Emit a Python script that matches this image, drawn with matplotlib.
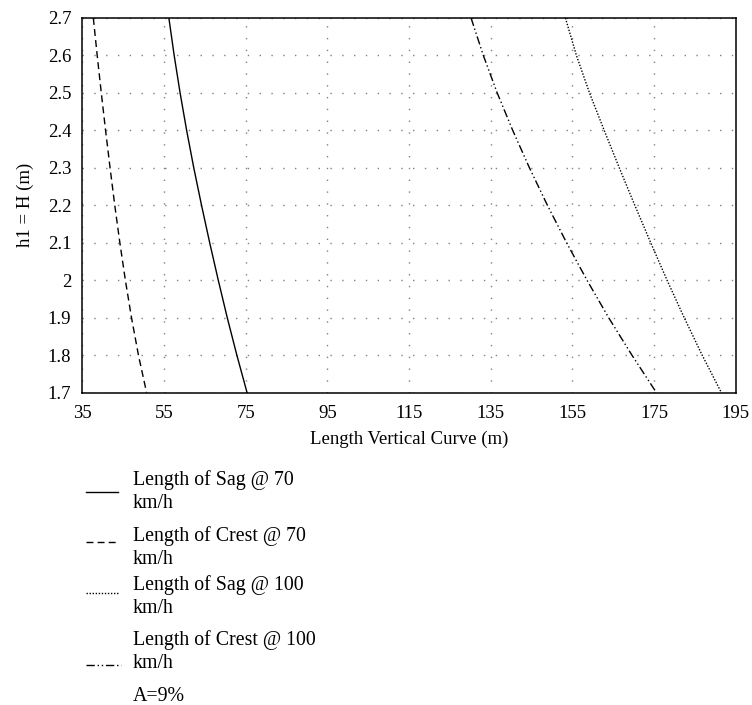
import matplotlib
matplotlib.use("Agg")
import matplotlib.pyplot as plt
from matplotlib.lines import Line2D

plt.rcParams['font.family'] = ['Liberation Serif', 'DejaVu Serif']

h_values = [2.7, 2.6, 2.5, 2.4, 2.3, 2.2, 2.1, 2.0, 1.9, 1.8, 1.7]
sag_70 = [56.2, 57.5, 58.95, 60.55, 62.3, 64.2, 66.2, 68.3, 70.5, 72.85, 75.35]
crest_70 = [37.7, 38.65, 39.65, 40.7, 41.8, 42.95, 44.2, 45.55, 47.05, 48.75, 50.75]
sag_100 = [153.3, 156.0, 159.2, 162.8, 166.5, 170.3, 174.2, 178.2, 182.4, 186.8, 191.5]
crest_100 = [130.2, 133.2, 136.6, 140.4, 144.5, 148.9, 153.6, 158.6, 163.9, 169.6, 175.6]

x_ticks = [35, 55, 75, 95, 115, 135, 155, 175, 195]
y_ticks = [1.7, 1.8, 1.9, 2.0, 2.1, 2.2, 2.3, 2.4, 2.5, 2.6, 2.7]
y_tick_labels = ['1.7', '1.8', '1.9', '2', '2.1', '2.2', '2.3', '2.4', '2.5', '2.6', '2.7']

legend_labels = [['Length of Sag @ 70', 'km/h'],
                 ['Length of Crest @ 70', 'km/h'],
                 ['Length of Sag @ 100', 'km/h'],
                 ['Length of Crest @ 100', 'km/h'],
                 ['A=9%']]

styles = ['-', (0, (5, 3)), (0, (1, 1.2)), (0, (6, 2, 1, 2, 1, 2))]

W, H = 752, 705
fig = plt.figure(figsize=(W / 100, H / 100), dpi=100)
ax = fig.add_axes([82.3 / W, 1 - 392.7 / H, (735.7 - 82.3) / W, (392.7 - 18) / H])

series = [sag_70, crest_70, sag_100, crest_100]
for xs, ls in zip(series, styles):
    ax.plot(xs, h_values, color='black', lw=1.0, linestyle=ls)

ax.set_xlim(35, 195)
ax.set_ylim(1.7, 2.7)
ax.set_xticks(x_ticks)
ax.set_yticks(y_ticks)
ax.set_yticklabels(y_tick_labels)
ax.tick_params(length=0, labelsize=13.5)
ax.tick_params(axis='x', pad=9)
ax.tick_params(axis='y', pad=8)
ax.grid(True, color='#808080', linestyle=(0, (1, 7.5)), lw=1.0)
for s in ax.spines.values():
    s.set_linewidth(1.1)
    s.set_color('black')

ax.set_xlabel('Length Vertical Curve (m)', fontsize=13.5, labelpad=6)
ax.set_ylabel('h1 = H (m)', fontsize=13.5, labelpad=10)


def px(x, y):
    return x / W, 1 - y / H


# manual legend below the axes (pixel layout)
handle_y = [491.5, 542, 593, 665]
handle_x1 = [118, 118, 118, 121]
baselines = [[485, 508], [541, 564], [590, 613], [645, 668], [701]]
for i, ls in enumerate(styles):
    x0, y0 = px(86, handle_y[i])
    x1, _ = px(handle_x1[i], handle_y[i])
    fig.add_artist(Line2D([x0, x1], [y0, y0], transform=fig.transFigure,
                          color='black', lw=1.0, linestyle=ls))
for lines, bls in zip(legend_labels, baselines):
    for t, b in zip(lines, bls):
        xx, yy = px(133, b)
        fig.text(xx, yy, t, fontsize=14.3, ha='left', va='baseline')

fig.savefig('out.png', dpi=100)
